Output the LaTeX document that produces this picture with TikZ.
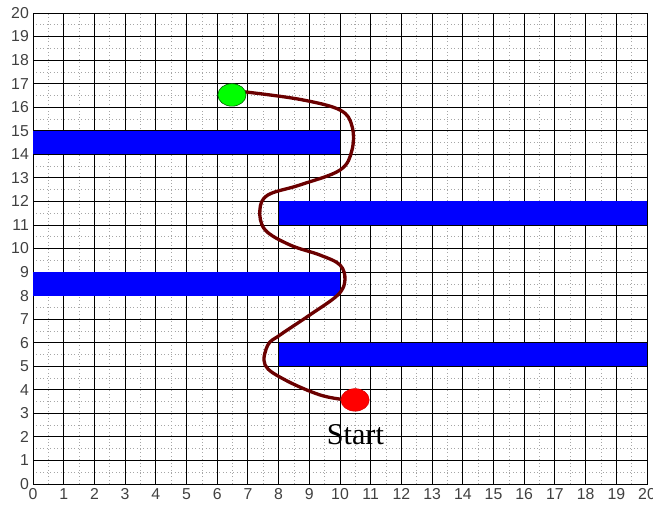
\documentclass[tikz,border=0pt]{standalone}
\usepackage{fontspec}
\setmainfont{Liberation Serif}
\newfontfamily\axisfont{Liberation Sans}
\usetikzlibrary{shapes.geometric}
\begin{document}
\begin{tikzpicture}[x=0.75cm,y=0.5753cm,
  obstacle/.style={fill=blue,draw=none},
  majorgrid/.style={draw=black,line width=0.6pt},
  minorgrid/.style={draw=gray!70,line width=0.4pt,dotted},
  pathline/.style={draw=red!42!black,line width=2.3pt,line cap=round,line join=round},
  marker/.style={ellipse,minimum width=0.69cm,minimum height=0.55cm,inner sep=0pt,line width=0.4pt},
  ticklabel/.style={font=\axisfont\fontsize{11}{13}\selectfont,text=black!75,inner sep=1pt}]
\useasboundingbox (-1.075,-0.892) rectangle (20.195,20.552);
% minor dotted grid
\foreach \i in {0,...,19} {
  \draw[minorgrid] (\i+0.5,0) -- (\i+0.5,20);
  \draw[minorgrid] (0,\i+0.5) -- (20,\i+0.5);
}
% major grid
\foreach \i in {1,...,19} {
  \draw[majorgrid] (\i,0) -- (\i,20);
  \draw[majorgrid] (0,\i) -- (20,\i);
}
\draw[majorgrid] (0,0) rectangle (20,20);
% tick labels
\foreach \i in {0,...,20} {
  \node[ticklabel,anchor=north] (xl\i) at (\i,-0.12) {\i};
  \node[ticklabel,anchor=east] (yl\i) at (-0.08,\i) {\i};
}
% obstacles
\fill[obstacle] (0,14) rectangle (10,15);
\fill[obstacle] (8,11) rectangle (20,12);
\fill[obstacle] (0,8) rectangle (10,9);
\fill[obstacle] (8,5) rectangle (20,6);
% path
\draw[pathline] plot[smooth,tension=0.6] coordinates {
 (6.9,16.65) (8.70,16.33) (10.0,15.88) (10.39,15.2) (10.39,14.18) (10.0,13.33)
 (8.70,12.70) (7.65,12.27) (7.39,11.63) (7.56,10.79) (8.37,10.15) (9.35,9.72)
 (10.0,9.30) (10.16,8.66) (9.93,8.03) (9.02,7.18) (8.05,6.33) (7.65,5.90)
 (7.56,5.05) (8.21,4.42) (9.35,3.78) (10.2,3.57)};
% goal and start
\node[marker,fill=green,draw=green!35!black] (goal) at (6.48,16.52) {};
\node[marker,fill=red,draw=red!85!black] (start) at (10.49,3.57) {};
\node[font=\fontsize{21}{23}\selectfont,inner sep=0pt] (startlabel) at (10.5,2.08) {Start};
\end{tikzpicture}
\end{document}
